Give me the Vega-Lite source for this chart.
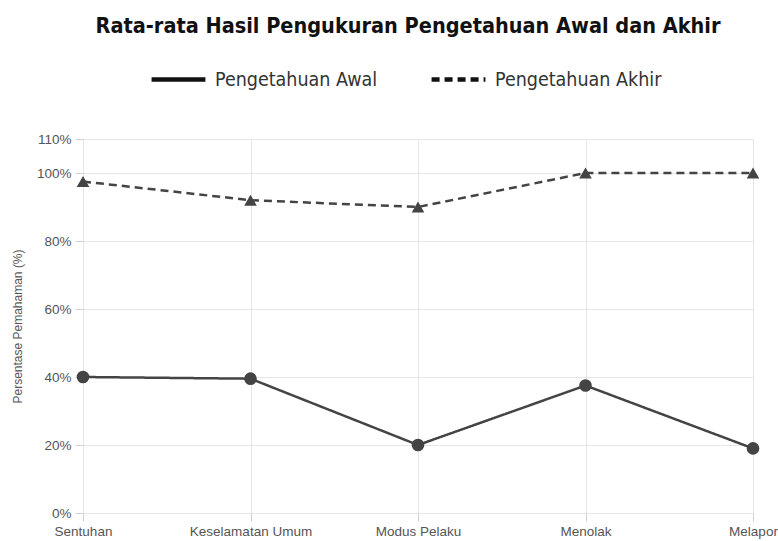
{
  "$schema": "https://vega.github.io/schema/vega-lite/v6.json",
  "width": 670,
  "height": 374,
  "autosize": {"type": "none"},
  "padding": {"left": 83, "top": 139, "right": 25, "bottom": 28},
  "background": "white",
  "title": {
    "text": "Rata-rata Hasil Pengukuran Pengetahuan Awal dan Akhir",
    "font": "DejaVu Sans Condensed, Roboto",
    "fontSize": 21.5,
    "fontWeight": "bold",
    "color": "#111111",
    "anchor": "middle",
    "frame": "group",
    "dx": -10,
    "offset": 13
  },
  "data": {
    "values": [
      {"kategori": "Sentuhan", "seri": "Pengetahuan Awal", "nilai": 40},
      {"kategori": "Keselamatan Umum", "seri": "Pengetahuan Awal", "nilai": 39.5},
      {"kategori": "Modus Pelaku", "seri": "Pengetahuan Awal", "nilai": 20},
      {"kategori": "Menolak", "seri": "Pengetahuan Awal", "nilai": 37.5},
      {"kategori": "Melapor", "seri": "Pengetahuan Awal", "nilai": 19},
      {"kategori": "Sentuhan", "seri": "Pengetahuan Akhir", "nilai": 97.5},
      {"kategori": "Keselamatan Umum", "seri": "Pengetahuan Akhir", "nilai": 92},
      {"kategori": "Modus Pelaku", "seri": "Pengetahuan Akhir", "nilai": 90},
      {"kategori": "Menolak", "seri": "Pengetahuan Akhir", "nilai": 100},
      {"kategori": "Melapor", "seri": "Pengetahuan Akhir", "nilai": 100}
    ]
  },
  "encoding": {
    "x": {
      "field": "kategori",
      "type": "nominal",
      "sort": ["Sentuhan", "Keselamatan Umum", "Modus Pelaku", "Menolak", "Melapor"],
      "scale": {"type": "point", "padding": 0},
      "axis": {
        "title": null,
        "labelAngle": 0,
        "grid": true,
        "gridColor": "#e6e6e6",
        "domain": false,
        "tickColor": "#d0d0d0",
        "tickSize": 8,
        "labelPadding": 3,
        "labelFont": "Liberation Sans",
        "labelFontSize": 13.5,
        "labelColor": "#555555"
      }
    },
    "y": {
      "field": "nilai",
      "type": "quantitative",
      "scale": {"domain": [0, 110], "nice": false},
      "axis": {
        "title": "Persentase Pemahaman (%)",
        "titleFont": "Liberation Sans",
        "titleFontSize": 12,
        "titleFontWeight": "normal",
        "titleColor": "#555555",
        "titlePadding": 12,
        "values": [0, 20, 40, 60, 80, 100, 110],
        "labelExpr": "datum.value + '%'",
        "grid": true,
        "gridColor": "#e6e6e6",
        "domain": false,
        "tickColor": "#d0d0d0",
        "tickSize": 8,
        "labelPadding": 4,
        "labelFont": "Liberation Sans",
        "labelFontSize": 13.5,
        "labelColor": "#555555"
      }
    }
  },
  "layer": [
    {
      "mark": {"type": "line", "color": "#444444", "strokeWidth": 2.5},
      "encoding": {
        "strokeDash": {
          "field": "seri",
          "type": "nominal",
          "sort": ["Pengetahuan Awal", "Pengetahuan Akhir"],
          "scale": {"domain": ["Pengetahuan Awal", "Pengetahuan Akhir"], "range": [[1, 0], [8, 5]]},
          "legend": {
            "title": null,
            "orient": "none",
            "legendX": 66,
            "legendY": -89,
            "direction": "horizontal",
            "symbolType": "stroke",
            "symbolSize": 2900,
            "symbolStrokeWidth": 4.5,
            "symbolStrokeColor": "#111111",
            "labelFont": "DejaVu Sans Condensed, Roboto",
            "labelFontSize": 19.5,
            "labelColor": "#333333",
            "labelLimit": 300,
            "labelOffset": 7,
            "columnPadding": 44
          }
        }
      }
    },
    {
      "transform": [{"filter": "datum.seri === 'Pengetahuan Awal'"}],
      "mark": {"type": "point", "filled": true, "color": "#444444", "opacity": 1, "size": 160, "shape": "circle"}
    },
    {
      "transform": [{"filter": "datum.seri === 'Pengetahuan Akhir'"}],
      "mark": {"type": "point", "filled": true, "color": "#444444", "opacity": 1, "size": 160, "shape": "triangle-up"}
    }
  ]
}
